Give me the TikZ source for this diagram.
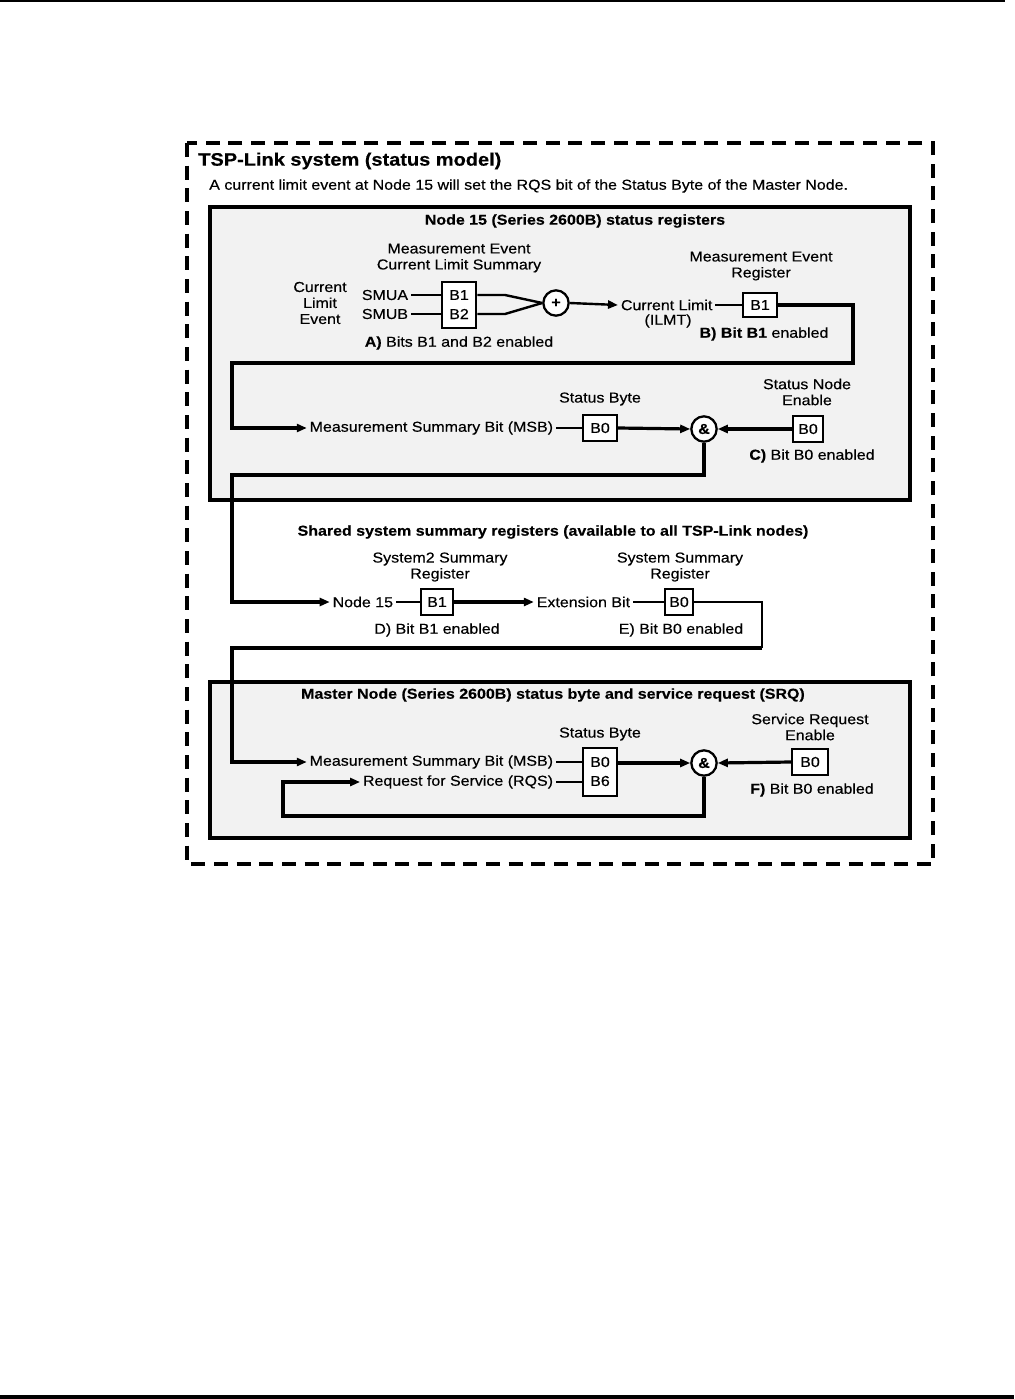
\documentclass[tikz,border=0pt]{standalone}
\usepackage{fontspec}
\setmainfont[FakeStretch=1.11,FakeBold=0.35]{Liberation Sans}
\usetikzlibrary{arrows.meta}
\definecolor{panelgray}{RGB}{242,242,242}
\begin{document}
\begin{tikzpicture}[x=0.75pt,y=-0.75pt,
  every node/.style={font=\fontsize{10.8}{12}\selectfont},
  lbl/.style={inner sep=0pt,align=center},
  hdr/.style={inner sep=0pt,font=\fontsize{10.8}{12}\selectfont\bfseries},
  reg/.style={draw,line width=1.7pt,fill=white,inner sep=0pt,font=\fontsize{10.8}{12}\selectfont},
  gate/.style={draw,circle,line width=1.7pt,fill=white,inner sep=0pt,minimum size=19pt,font=\fontsize{10.8}{12}\selectfont\bfseries},
  panel/.style={draw,line width=2.4pt,fill=panelgray},
  thin/.style={line width=1.8pt},
  route/.style={line width=2.4pt},
  arr/.style={-{Triangle[length=7.5pt,width=6pt]}},
  txt/.style={inner sep=2pt}
]
\useasboundingbox (0,0) rectangle (1014,1399);
\fill[white] (0,0) rectangle (1014,1399);
% page rules
\draw[line width=1.2pt] (0,1) -- (1005,1);
\draw[line width=2.4pt] (0,1397) -- (1014,1397);

% outer dashed frame
\draw[line width=2.4pt,dash pattern=on 10.5pt off 6.5pt] (187,143) rectangle (933,864);
\node[anchor=west,inner sep=0pt,font=\fontsize{13.5}{15}\selectfont\bfseries] (title) at (198,161) {TSP-Link system (status model)};
\node[anchor=west,inner sep=0pt] (sub) at (209,186) {A current limit event at Node 15 will set the RQS bit of the Status Byte of the Master Node.};

% ---------- Node 15 panel
\draw[panel] (210,207) rectangle (910,500);
\node[hdr] (h1) at (575,221) {Node 15 (Series 2600B) status registers};

\node[lbl] (mecls) at (459,258) {Measurement Event\\Current Limit Summary};
\node[lbl] (cle) at (320,303) {Current\\Limit\\Event};
\node[txt,anchor=east] (smua) at (411,295) {SMUA};
\node[txt,anchor=east] (smub) at (411,314) {SMUB};
\node[reg,minimum width=26pt,minimum height=34.5pt] (regA) at (459,305) {};
\node[lbl] (ra1) at (459,295) {B1};
\node[lbl] (ra2) at (459,314) {B2};
\node[lbl] (la) at (459,343) {\textbf{A)} Bits B1 and B2 enabled};
\node[gate] (plus) at (556,303) {+};
\draw[thin] (smua.east) -- (smua.east -| regA.west);
\draw[thin] (smub.east) -- (smub.east -| regA.west);
\coordinate (ja) at (505,295);
\coordinate (jb) at (505,314);
\draw[thin] (regA.east |- ja) -- (ja) -- (plus.west);
\draw[thin] (regA.east |- jb) -- (jb) -- (plus.west);

\node[txt,anchor=west] (cl) at (618,305) {Current Limit};
\node[lbl] (ilmt) at (668,321) {(ILMT)};
\draw[thin,arr] (plus.east) -- (cl.west);
\node[reg,minimum width=25.5pt,minimum height=18pt] (regB) at (760,305) {B1};
\node[lbl] (mer) at (761,266) {Measurement Event\\Register};
\node[lbl] (lb) at (764,334) {\textbf{B) Bit B1} enabled};
\draw[thin] (cl.east) -- (regB.west);

\node[txt,anchor=east] (msb1) at (556,428) {Measurement Summary Bit (MSB)};
\node[reg,minimum width=25.5pt,minimum height=20pt] (sb1) at (600,428) {B0};
\node[lbl] (sbt1) at (600,399) {Status Byte};
\node[gate] (and1) at (704,429) {\&};
\node[reg,minimum width=22.5pt,minimum height=19pt] (sne) at (808,429) {B0};
\node[lbl] (snet) at (807,392) {Status Node\\Enable};
\node[lbl] (lc) at (812,456) {\textbf{C)} Bit B0 enabled};
\draw[thin] (msb1.east) -- (sb1.west);
\draw[route,arr] (sb1.east) -- (and1.west);
\draw[route,arr] (sne.west) -- (and1.east);

\coordinate (r1a) at (853,305);
\coordinate (r1b) at (853,363);
\coordinate (r1c) at (232,363);
\coordinate (r1d) at (232,428);
\draw[route,arr] (regB.east) -- (r1a) -- (r1b) -- (r1c) -- (r1d) -- (msb1.west);

% ---------- shared registers
\coordinate (r2a) at (704,475);
\coordinate (r2b) at (232,475);
\coordinate (r2c) at (232,602);
\node[hdr] (h2) at (553,532) {Shared system summary registers (available to all TSP-Link nodes)};
\node[lbl] (s2t) at (440,567) {System2 Summary\\Register};
\node[txt,anchor=east] (n15) at (396,602) {Node 15};
\node[reg,minimum width=24pt,minimum height=20pt] (s2) at (437,602) {B1};
\node[lbl] (ld) at (437,630) {D) Bit B1 enabled};
\node[txt,anchor=east] (ext) at (633,602) {Extension Bit};
\node[reg,minimum width=21pt,minimum height=20pt] (ss) at (679,602) {B0};
\node[lbl] (sst) at (680,567) {System Summary\\Register};
\node[lbl] (le) at (681,630) {E) Bit B0 enabled};
\draw[route,arr] (and1.south) -- (r2a) -- (r2b) -- (r2c) -- (n15.west);
\draw[thin] (n15.east) -- (s2.west);
\draw[route,arr] (s2.east) -- (ext.west);
\draw[thin] (ext.east) -- (ss.west);

% ---------- Master panel
\draw[panel] (210,682) rectangle (910,838);
\node[hdr] (h3) at (553,695) {Master Node (Series 2600B) status byte and service request (SRQ)};
\node[lbl] (sbt2) at (600,734) {Status Byte};
\node[txt,anchor=east] (msb2) at (556,762) {Measurement Summary Bit (MSB)};
\node[txt,anchor=east] (rqs) at (556,782) {Request for Service (RQS)};
\node[reg,minimum width=26pt,minimum height=36.5pt] (sb2) at (600,772) {};
\node[lbl] (sb2a) at (600,762) {B0};
\node[lbl] (sb2b) at (600,781) {B6};
\node[gate] (and2) at (704,763) {\&};
\node[reg,minimum width=27pt,minimum height=20pt] (sre) at (810,762) {B0};
\node[lbl] (sret) at (810,727) {Service Request\\Enable};
\node[lbl] (lf) at (812,790) {\textbf{F)} Bit B0 enabled};
\draw[thin] (msb2.east) -- (msb2.east -| sb2.west);
\draw[thin] (rqs.east) -- (rqs.east -| sb2.west);
\draw[route,arr] (sb2.east |- and2.west) -- (and2.west);
\draw[route,arr] (sre.west) -- (and2.east);

\coordinate (r3a) at (762,602);
\coordinate (r3b) at (762,648);
\coordinate (r3c) at (232,648);
\coordinate (r3d) at (232,762);
\draw[thin] (ss.east) -- (r3a) -- (r3b);
\draw[route,arr] (r3b) -- (r3c) -- (r3d) -- (msb2.west);

\coordinate (r4a) at (704,816);
\coordinate (r4b) at (283,816);
\coordinate (r4c) at (283,782);
\draw[route,arr] (and2.south) -- (r4a) -- (r4b) -- (r4c) -- (rqs.west);
\end{tikzpicture}
\end{document}
